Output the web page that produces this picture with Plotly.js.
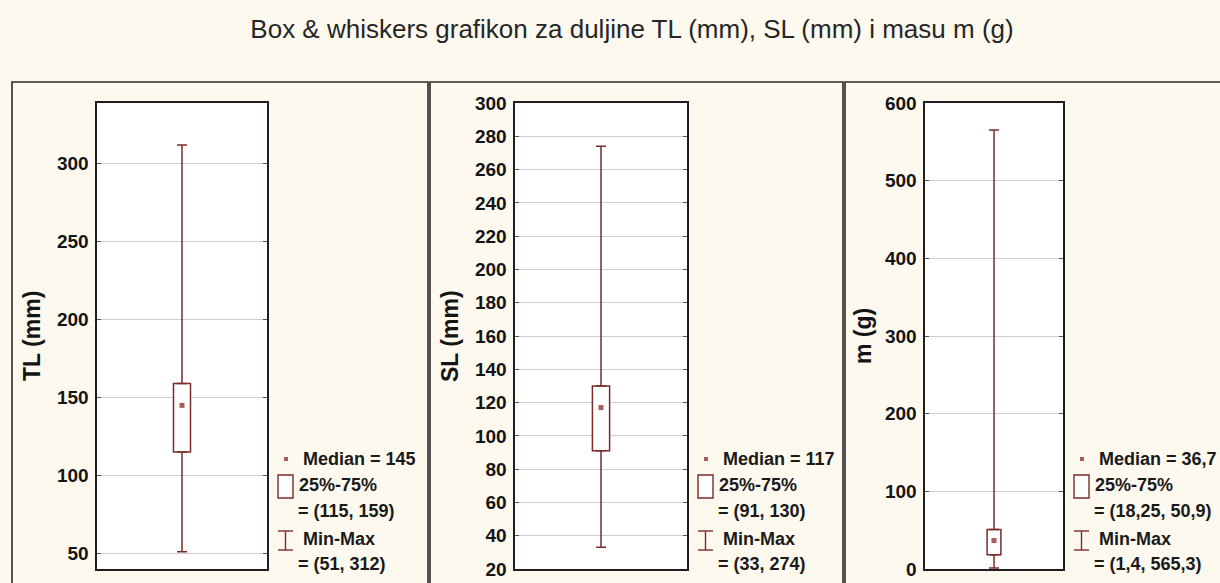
<!DOCTYPE html>
<html>
<head>
<meta charset="utf-8">
<script src="https://cdn.plot.ly/plotly-3.0.1.min.js"></script>
<style>html,body{margin:0;padding:0;background:#fdf9ef;}#chart{width:1220px;height:583px;}</style>
</head>
<body>
<div id="chart"></div>
<script>
// ---- data ----
const variables = ['TL', 'SL', 'm'];
const axisTitles = ['TL (mm)', 'SL (mm)', 'm (g)'];
const medians = [145, 117, 36.7];
const q1s = [115, 91, 18.25];
const q3s = [159, 130, 50.9];
const mins = [51, 33, 1.4];
const maxs = [312, 274, 565.3];
const yRanges = [[40, 339], [20, 300], [0, 600]];
const yDticks = [50, 20, 100];
const titleText = 'Box & whiskers grafikon za duljine TL (mm), SL (mm) i masu m (g)';

// ---- styles / geometry (pixels) ----
const W = 1220, H = 583;
const plotLeft = [97, 515, 925], plotRight = [267, 687, 1063];
const plotTop = 103, plotBottom = 569;
const panelLeft = [12, 430, 845], panelRight = [428, 843, 1224];
const frameTop = 82;
const boxColor = '#7a2c2c', medColor = '#a85c5c';
const fx = p => p / W, fy = p => 1 - p / H;
const fmt = v => String(v).replace('.', ',');

const traces = [], shapes = [], annotations = [];
const layout = {
  width: W, height: H,
  margin: {l: 0, r: 0, t: 0, b: 0},
  paper_bgcolor: '#fdf9ef', plot_bgcolor: '#ffffff',
  showlegend: false, hovermode: false,
  title: {text: titleText, font: {family: 'Liberation Sans, Arial, sans-serif', size: 26, color: '#262626'},
          x: 632 / W, xanchor: 'center', xref: 'paper', y: fy(29), yanchor: 'middle', yref: 'container'},
  shapes: shapes, annotations: annotations
};

variables.forEach((v, i) => {
  const n = i === 0 ? '' : String(i + 1);
  const xa = 'x' + n, ya = 'y' + n;
  layout['xaxis' + n] = {
    domain: [fx(plotLeft[i]), fx(plotRight[i])], anchor: ya,
    type: 'category', range: [-1, 1], showticklabels: false, ticks: '',
    showgrid: false, zeroline: false, showline: true, mirror: true,
    linecolor: '#1e1e1e', linewidth: 1.6, fixedrange: true
  };
  layout['yaxis' + n] = {
    domain: [fy(plotBottom), fy(plotTop)], anchor: xa,
    range: yRanges[i], dtick: yDticks[i], tick0: 0,
    showgrid: true, gridcolor: '#cfcfcf', gridwidth: 1, zeroline: false,
    showline: true, mirror: 'ticks', linecolor: '#1e1e1e', linewidth: 1.6,
    ticks: 'inside', ticklen: 4, tickcolor: '#555', tickwidth: 1,
    ticklabelstandoff: 3,
    tickfont: {family: 'Liberation Sans, Arial, sans-serif', size: 19, color: '#141414', weight: 'bold'},
    fixedrange: true
  };
  // box (25%-75%)
  traces.push({type: 'bar', x: [v], base: [q1s[i]], y: [q3s[i] - q1s[i]], width: 0.2,
    marker: {color: '#ffffff', line: {color: boxColor, width: 1.5}}, xaxis: xa, yaxis: ya});
  // upper whisker
  traces.push({type: 'scatter', mode: 'lines', x: [v], y: [q3s[i]],
    error_y: {type: 'data', symmetric: false, array: [maxs[i] - q3s[i]], arrayminus: [0],
              color: boxColor, thickness: 1.5, width: 5},
    xaxis: xa, yaxis: ya});
  // lower whisker
  traces.push({type: 'scatter', mode: 'lines', x: [v], y: [q1s[i]],
    error_y: {type: 'data', symmetric: false, array: [0], arrayminus: [q1s[i] - mins[i]],
              color: boxColor, thickness: 1.5, width: 5},
    xaxis: xa, yaxis: ya});
  // median
  traces.push({type: 'scatter', mode: 'markers', x: [v], y: [medians[i]],
    marker: {symbol: 'square', size: 5, color: medColor}, xaxis: xa, yaxis: ya});

  // panel frame
  shapes.push({type: 'rect', xref: 'paper', yref: 'paper',
    x0: fx(panelLeft[i]), x1: fx(panelRight[i]), y0: fy(H + 5), y1: fy(frameTop),
    line: {color: '#2a2a2a', width: 1.6}, fillcolor: 'rgba(0,0,0,0)', layer: 'below'});

  // y axis title
  annotations.push({xref: 'paper', yref: 'paper', x: fx(plotLeft[i] - 65 + (i === 2 ? 3 : 0)), y: fy(336),
    text: axisTitles[i], showarrow: false, textangle: -90, xanchor: 'center', yanchor: 'middle',
    font: {family: 'Liberation Sans, Arial, sans-serif', size: 23, color: '#141414', weight: 'bold'}});

  // custom legend
  const r = plotRight[i];
  const lf = {family: 'Liberation Sans, Arial, sans-serif', size: 18, color: '#1a1a1a', weight: 'bold'};
  const lines = [
    ['Median = ' + fmt(medians[i]), 34, 459],
    ['25%-75%', 30, 485],
    ['= (' + fmt(q1s[i]) + ', ' + fmt(q3s[i]) + ')', 29, 511],
    ['Min-Max', 34, 539],
    ['= (' + fmt(mins[i]) + ', ' + fmt(maxs[i]) + ')', 29, 564]
  ];
  lines.forEach(([t, dx, yy]) => annotations.push({xref: 'paper', yref: 'paper', x: fx(r + dx), y: fy(yy),
    text: t, showarrow: false, xanchor: 'left', yanchor: 'middle', font: lf}));
  // legend icons
  shapes.push({type: 'rect', xref: 'paper', yref: 'paper', x0: fx(r + 17), x1: fx(r + 21), y0: fy(461), y1: fy(457),
    line: {width: 0}, fillcolor: medColor});
  shapes.push({type: 'rect', xref: 'paper', yref: 'paper', x0: fx(r + 11), x1: fx(r + 26), y0: fy(498), y1: fy(475),
    line: {color: boxColor, width: 1.4}, fillcolor: '#ffffff'});
  shapes.push({type: 'line', xref: 'paper', yref: 'paper', x0: fx(r + 18.5), x1: fx(r + 18.5), y0: fy(550), y1: fy(531),
    line: {color: boxColor, width: 1.4}});
  shapes.push({type: 'line', xref: 'paper', yref: 'paper', x0: fx(r + 11), x1: fx(r + 26), y0: fy(531), y1: fy(531),
    line: {color: boxColor, width: 1.4}});
  shapes.push({type: 'line', xref: 'paper', yref: 'paper', x0: fx(r + 11), x1: fx(r + 26), y0: fy(550), y1: fy(550),
    line: {color: boxColor, width: 1.4}});
});

Plotly.newPlot('chart', traces, layout, {staticPlot: true, displayModeBar: false});
</script>
</body>
</html>
